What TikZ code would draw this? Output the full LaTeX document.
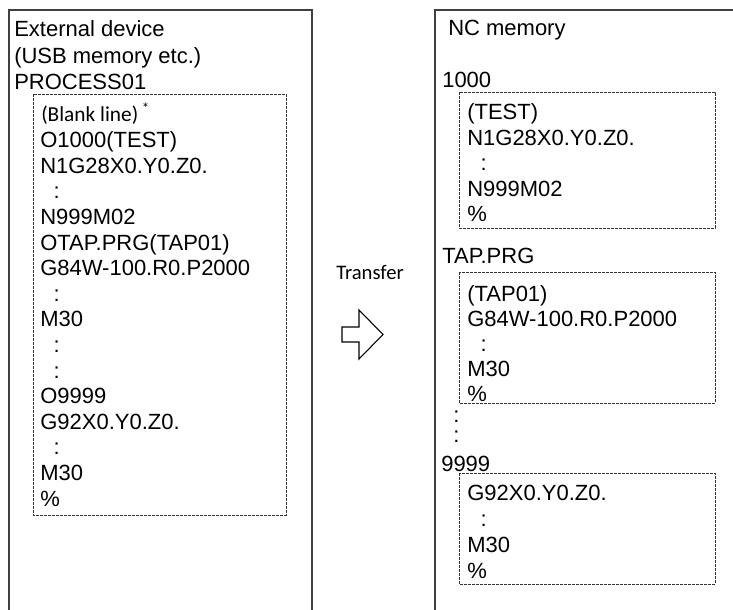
\documentclass[tikz,border=0pt]{standalone}
\usepackage{fontspec}
\setmainfont{Liberation Sans}
\newfontfamily\uifont{Carlito}
\tikzset{
  code/.style={anchor=base west, inner sep=0pt, font=\fontsize{16.5}{18}\selectfont},
  note/.style={inner sep=0pt, font=\uifont\fontsize{15.5}{17}\selectfont},
  frame/.style={line width=1.1pt, black!75},
  dashbox/.style={line width=0.7pt, black!80, dash pattern=on 2pt off 1pt},
}
\newcommand\cont{\hspace*{10pt}:}
\begin{document}
\begin{tikzpicture}[x=0.75pt,y=-0.75pt]
    \useasboundingbox (0,0) rectangle (733,610);

    % External device
    \draw[frame] (9,610) -- (9,10) -- (312,10) -- (312,610);
    \node[code] (hdr1) at (14,37) {External device};
    \node[code] (hdr2) at (14,63.5) {(USB memory etc.)};
    \node[code] (hdr3) at (14,90) {PROCESS01};
    \draw[dashbox] (33,94) rectangle (286,515);
    \node[note, anchor=base west, font=\uifont\fontsize{16}{18}\selectfont] (blank) at (41,122)
      {(Blank line)\,\textsuperscript{*}};
    \foreach \t [count=\i] in {O1000(TEST), N1G28X0.Y0.Z0., \cont, N999M02,
        OTAP.PRG(TAP01), G84W-100.R0.P2000, \cont, M30, \cont, \cont,
        O9999, G92X0.Y0.Z0., \cont, M30, \%}
      \node[code] (ext\i) at (40,{122+25.6*\i}) {\t};

    % Transfer
    \node[note] (transfer) at (370,272) {Transfer};
    \draw[line width=0.8pt] (342,327) -- (359,327) -- (359,310) -- (383,334.5)
      -- (359,359) -- (359,342) -- (342,342) -- cycle;

    % NC memory
    \draw[frame] (435,610) -- (435,10) -- (733,10);
    \node[code] (nc) at (448,36) {NC memory};

    % program 1000
    \node[code] (prga) at (442,88) {1000};
    \draw[dashbox] (459,92) rectangle (715,228);
    \foreach \t [count=\i] in {(TEST), N1G28X0.Y0.Z0., \cont, N999M02, \%}
      \node[code] (a\i) at (467,{94.5+25.5*\i}) {\t};

    % program TAP.PRG
    \node[code] (prgb) at (442,263) {TAP.PRG};
    \draw[dashbox] (459,272) rectangle (715,403);
    \foreach \t [count=\i] in {(TAP01), G84W-100.R0.P2000, \cont, M30, \%}
      \node[code] (b\i) at (467,{276+25*\i}) {\t};
    \node[code] (dot1) at (453,422) {:};
    \node[code] (dot2) at (453,442) {:};

    % program 9999
    \node[code] (prgc) at (441,471) {9999};
    \draw[dashbox] (459,473) rectangle (715,584);
    \foreach \t [count=\i] in {G92X0.Y0.Z0., \cont, M30, \%}
      \node[code] (c\i) at (467,{474+26*\i}) {\t};
\end{tikzpicture}
\end{document}
